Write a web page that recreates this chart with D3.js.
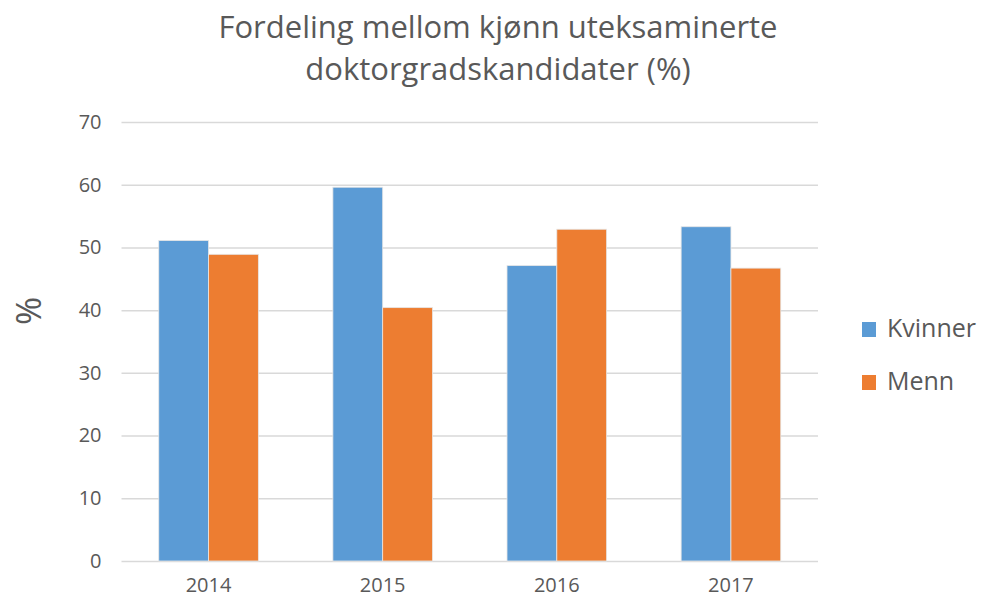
<!DOCTYPE html>
<html>
<head>
<meta charset="utf-8">
<script src="https://cdn.jsdelivr.net/npm/d3@7"></script>
<style>
  body { margin: 0; background: #fff; }
  text { font-family: "Open Sans", "Liberation Sans", sans-serif; fill: #595959; }
</style>
</head>
<body>
<script>
const years = ["2014", "2015", "2016", "2017"];
const kvinner = [51.1, 59.6, 47.1, 53.3];
const menn = [48.9, 40.4, 52.9, 46.7];
const seriesNames = ["Kvinner", "Menn"];
const yTicks = [0, 10, 20, 30, 40, 50, 60, 70];

let width = 986;
let height = 598;
let marginTop = 122;
let marginRight = 168;
let marginBottom = 37;
let marginLeft = 121.5;

const colors = ["#5B9BD5", "#ED7D31"];

const data = years.map((yr, i) => ({ year: yr, values: [kvinner[i], menn[i]] }));

const x = d3.scaleBand()
    .domain(years)
    .range([marginLeft, width - marginRight])
    .paddingInner(0.428)
    .paddingOuter(0.214);

const xSub = d3.scaleBand()
    .domain([0, 1])
    .range([0, x.bandwidth()]);

const y = d3.scaleLinear()
    .domain([0, 70])
    .range([height - marginBottom, marginTop]);

const svg = d3.select("body").append("svg")
    .attr("width", width)
    .attr("height", height)
    .attr("viewBox", [0, 0, width, height]);

// Title
svg.append("text")
    .attr("x", 498)
    .attr("y", 38)
    .attr("text-anchor", "middle")
    .style("font-size", "31px")
    .text("Fordeling mellom kjønn uteksaminerte");
svg.append("text")
    .attr("x", 498)
    .attr("y", 80)
    .attr("text-anchor", "middle")
    .style("font-size", "31px")
    .text("doktorgradskandidater (%)");

// Gridlines and y-axis labels
svg.append("g")
    .attr("transform", `translate(${marginLeft},0)`)
    .call(d3.axisLeft(y).tickValues(yTicks).tickSize(0).tickPadding(20))
    .call(g => g.select(".domain").remove())
    .call(g => g.selectAll(".tick line").clone()
        .attr("x2", width - marginLeft - marginRight)
        .attr("stroke", "#d9d9d9")
        .attr("stroke-width", 1.5))
    .call(g => g.selectAll("text")
        .style("font-size", "20px")
        .style("font-family", "'Open Sans', sans-serif")
        .attr("fill", "#595959"));

// Bars
svg.append("g")
    .selectAll("g")
    .data(data)
    .join("g")
    .attr("transform", d => `translate(${x(d.year)},0)`)
    .selectAll("rect")
    .data(d => d.values.map((v, i) => ({ i, v })))
    .join("rect")
    .attr("x", d => xSub(d.i))
    .attr("y", d => y(d.v))
    .attr("width", xSub.bandwidth())
    .attr("height", d => y(0) - y(d.v))
    .attr("fill", d => colors[d.i])
    .attr("stroke", "#e6e6e6")
    .attr("stroke-width", 0.8);

// x-axis labels
svg.append("g")
    .attr("transform", `translate(0,${height - marginBottom})`)
    .call(d3.axisBottom(x).tickSize(0).tickPadding(17))
    .call(g => g.select(".domain").remove())
    .call(g => g.selectAll("text")
        .style("font-size", "20px")
        .style("font-family", "'Open Sans', sans-serif")
        .attr("fill", "#595959"));

// y-axis title
svg.append("text")
    .attr("transform", "translate(41,311) rotate(-90)")
    .attr("text-anchor", "middle")
    .style("font-size", "34px")
    .text("%");

// Legend
const legend = svg.append("g")
    .selectAll("g")
    .data(seriesNames)
    .join("g")
    .attr("transform", (d, i) => `translate(862,${337 + i * 53})`);

legend.append("rect")
    .attr("x", 0)
    .attr("y", -15)
    .attr("width", 14)
    .attr("height", 15)
    .attr("fill", (d, i) => colors[i]);

legend.append("text")
    .attr("x", 25)
    .attr("y", 0)
    .style("font-size", "25px")
    .text(d => d);
</script>
</body>
</html>
